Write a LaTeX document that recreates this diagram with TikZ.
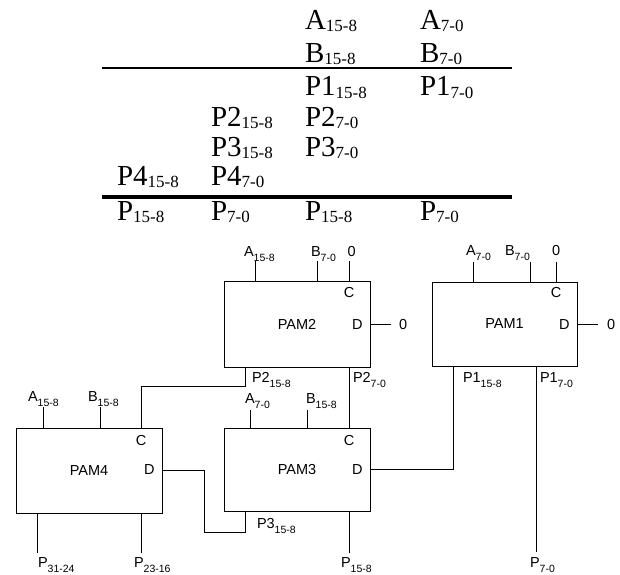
\documentclass[tikz,border=0pt]{standalone}
\usepackage{fontspec}
\setmainfont{Liberation Serif}
\setsansfont{Liberation Sans}
\newcommand\dsig[2]{#1\raisebox{-5pt}{\fontsize{10.5}{10.5}\selectfont #2}}
\newcommand\tsig[2]{#1\raisebox{-2pt}{\fontsize{17}{17}\selectfont #2}}
\newcommand\tsigl[2]{#1\raisebox{-3.5pt}{\fontsize{17}{17}\selectfont #2}}
\begin{document}
\begin{tikzpicture}[x=1pt,y=-1pt,
  box/.style={draw=black,line width=1pt,rectangle,inner sep=0pt,outer sep=0pt,
    font=\sffamily\fontsize{14.5}{14.5}\selectfont},
  lab/.style={inner sep=0pt,outer sep=0pt,anchor=base west,
    font=\sffamily\fontsize{14.5}{14.5}\selectfont},
  tab/.style={inner sep=0pt,outer sep=0pt,anchor=base west,
    font=\rmfamily\fontsize{29}{29}\selectfont},
  wire/.style={draw=black,line width=1pt}]
\path[fill=white,use as bounding box] (0,0) rectangle (620,574);

% ---------------- table ----------------
\node[tab] (ta1) at (305,29) {\tsig{A}{15-8}};
\node[tab] (ta2) at (420,29) {\tsig{A}{7-0}};
\node[tab] (tb1) at (305,62) {\tsig{B}{15-8}};
\node[tab] (tb2) at (420,62) {\tsig{B}{7-0}};
\coordinate (r1a) at (102,68);
\coordinate (r1b) at (512,68);
\draw[line width=1.5pt] (r1a) -- (r1b);
\node[tab] (tp11) at (305,95) {\tsigl{P1}{15-8}};
\node[tab] (tp12) at (420,95) {\tsigl{P1}{7-0}};
\node[tab] (tp21) at (211,126) {\tsig{P2}{15-8}};
\node[tab] (tp22) at (305,126) {\tsig{P2}{7-0}};
\node[tab] (tp31) at (211,156) {\tsig{P3}{15-8}};
\node[tab] (tp32) at (305,156) {\tsig{P3}{7-0}};
\node[tab] (tp41) at (117,185) {\tsig{P4}{15-8}};
\node[tab] (tp42) at (211,185) {\tsig{P4}{7-0}};
\coordinate (r2a) at (102,197);
\coordinate (r2b) at (512,197);
\draw[line width=4pt] (r2a) -- (r2b);
\node[tab] (tr1) at (117,220) {\tsig{P}{15-8}};
\node[tab] (tr2) at (211,220) {\tsig{P}{7-0}};
\node[tab] (tr3) at (305,220) {\tsig{P}{15-8}};
\node[tab] (tr4) at (420,220) {\tsig{P}{7-0}};

% ---------------- boxes ----------------
\node[box,minimum width=146pt,minimum height=86pt] (pam2) at (297,324) {PAM2};
\node[box,minimum width=145pt,minimum height=84pt] (pam1) at (504.5,324) {PAM1};
\node[box,minimum width=146pt,minimum height=85pt] (pam4) at (89,470.5) {PAM4};
\node[box,minimum width=146pt,minimum height=83pt] (pam3) at (297,469.5) {PAM3};

% C / D labels
\node[lab,anchor=base] (c2) at (349,297) {C};
\node[lab,anchor=base west] (d2) at (352,329) {D};
\node[lab,anchor=base] (c1) at (556,297) {C};
\node[lab,anchor=base west] (d1) at (559,329) {D};
\node[lab,anchor=base] (c4) at (141,445) {C};
\node[lab,anchor=base west] (d4) at (144,474) {D};
\node[lab,anchor=base] (c3) at (349,445) {C};
\node[lab,anchor=base west] (d3) at (352,474) {D};

% ---------------- top pins ----------------
% PAM2
\coordinate (p2a) at (255,261);
\coordinate (p2b) at (317,261);
\coordinate (p2c) at (349,261);
\draw[wire] (p2a) -- (p2a |- pam2.north);
\draw[wire] (p2b) -- (p2b |- pam2.north);
\draw[wire] (p2c) -- (p2c |- pam2.north);
\node[lab] (l2a) at (244,256) {\dsig{A}{15-8}};
\node[lab] (l2b) at (311,256) {\dsig{B}{7-0}};
\node[lab] (l2c) at (347.5,256) {0};
% PAM1
\coordinate (p1a) at (473,262);
\coordinate (p1b) at (530,262);
\coordinate (p1c) at (556,262);
\draw[wire] (p1a) -- (p1a |- pam1.north);
\draw[wire] (p1b) -- (p1b |- pam1.north);
\draw[wire] (p1c) -- (p1c |- pam1.north);
\node[lab] (l1a) at (466,255) {\dsig{A}{7-0}};
\node[lab] (l1b) at (505,255) {\dsig{B}{7-0}};
\node[lab] (l1c) at (552,255) {0};
% PAM4
\coordinate (p4a) at (43,407);
\coordinate (p4b) at (100,407);
\draw[wire] (p4a) -- (p4a |- pam4.north);
\draw[wire] (p4b) -- (p4b |- pam4.north);
\node[lab] (l4a) at (28,401) {\dsig{A}{15-8}};
\node[lab] (l4b) at (88,401) {\dsig{B}{15-8}};
% PAM3
\coordinate (p3a) at (250,410);
\coordinate (p3b) at (307,410);
\draw[wire] (p3a) -- (p3a |- pam3.north);
\draw[wire] (p3b) -- (p3b |- pam3.north);
\node[lab] (l3a) at (245,403) {\dsig{A}{7-0}};
\node[lab] (l3b) at (306,403) {\dsig{B}{15-8}};

% D outputs to 0
\coordinate (z2) at (391,324);
\coordinate (z1) at (598,324);
\draw[wire] (pam2.east) -- (z2);
\draw[wire] (pam1.east) -- (z1);
\node[lab] (l2z) at (399,329) {0};
\node[lab] (l1z) at (607,329) {0};

% ---------------- connections ----------------
\coordinate (x245) at (245,386);
\coordinate (x141) at (141,386);
\draw[wire] (x245 |- pam2.south) -- (x245) -- (x141) -- (x141 |- pam4.north);
\coordinate (x349) at (349,0);
\draw[wire] (x349 |- pam2.south) -- (x349 |- pam3.north);
\coordinate (x453) at (453,0);
\draw[wire] (x453 |- pam1.south) |- (pam3.east);
\coordinate (o17) at (536,552);
\draw[wire] (o17 |- pam1.south) -- (o17);
\coordinate (k1) at (204,532);
\coordinate (k2) at (245,532);
\draw[wire] (pam4.east) -| (k1) -- (k2) -- (k2 |- pam3.south);
\coordinate (o3) at (349,553);
\draw[wire] (o3 |- pam3.south) -- (o3);
\coordinate (o41) at (37,553);
\coordinate (o42) at (141,553);
\draw[wire] (o41 |- pam4.south) -- (o41);
\draw[wire] (o42 |- pam4.south) -- (o42);

% bottom labels
\node[lab] (lp21) at (252,382) {\dsig{P2}{15-8}};
\node[lab] (lp22) at (353,382) {\dsig{P2}{7-0}};
\node[lab] (lp11) at (463,382) {\dsig{P1}{15-8}};
\node[lab] (lp12) at (540,382) {\dsig{P1}{7-0}};
\node[lab] (lp31) at (257,528) {\dsig{P3}{15-8}};
\node[lab] (lo41) at (38,567) {\dsig{P}{31-24}};
\node[lab] (lo42) at (134,567) {\dsig{P}{23-16}};
\node[lab] (lo3) at (341,567) {\dsig{P}{15-8}};
\node[lab] (lo17) at (530,567) {\dsig{P}{7-0}};
\end{tikzpicture}
\end{document}
